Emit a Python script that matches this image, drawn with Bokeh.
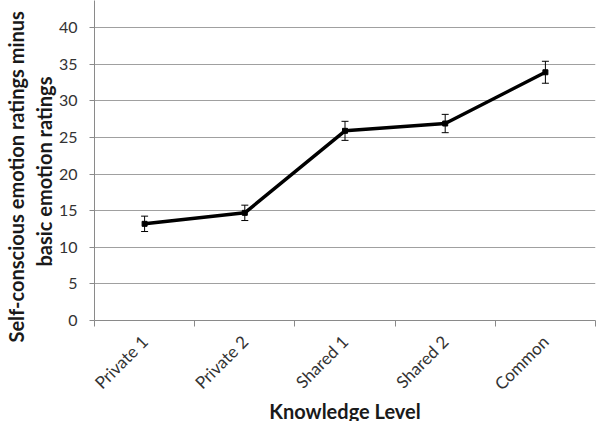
from math import pi
from bokeh.plotting import figure
from bokeh.models import ColumnDataSource, Whisker, TeeHead, FixedTicker, Title
from bokeh.embed import file_html
from bokeh.resources import INLINE

categories = ["Private 1", "Private 2", "Shared 1", "Shared 2", "Common"]
values = [13.2, 14.7, 25.9, 26.9, 33.9]
errors = [1.05, 1.05, 1.3, 1.25, 1.5]
y_ticks = [0, 5, 10, 15, 20, 25, 30, 35, 40]
x_title = "Knowledge Level"
y_title_lines = ["Self-conscious emotion ratings minus", "basic emotion ratings"]

xs = [i + 0.5 for i in range(len(categories))]
src = ColumnDataSource(dict(
    x=xs, y=values,
    upper=[v + e for v, e in zip(values, errors)],
    lower=[v - e for v, e in zip(values, errors)],
))

FONT = "Lato"
GRAY = "#8a8a8a"
TXT = "#333333"
TITLE = "#1a1a1a"

p = figure(width=599, height=421, x_range=(0, len(categories)), y_range=(0, 43.7),
           output_backend="svg", toolbar_location=None,
           min_border_left=94, min_border_right=4, min_border_top=0, min_border_bottom=101)
p.outline_line_color = None
p.background_fill_color = "white"
p.border_fill_color = "white"

p.xgrid.visible = False
p.ygrid.grid_line_color = "#a0a0a0"
p.ygrid.grid_line_width = 1

# y axis
p.yaxis.ticker = FixedTicker(ticks=y_ticks)
p.yaxis.axis_line_color = GRAY
p.yaxis.major_tick_line_color = GRAY
p.yaxis.major_tick_out = 5
p.yaxis.major_tick_in = 0
p.yaxis.minor_tick_line_color = None
p.yaxis.major_label_text_font = FONT
p.yaxis.major_label_text_font_size = "16px"
p.yaxis.major_label_text_color = TXT
p.yaxis.major_label_standoff = 12

# y title: two lines, as titles in the left panel (inner line first)
for line, off, so in ((y_title_lines[1], 54, 0), (y_title_lines[0], -22, 3)):
    p.add_layout(Title(text=line, align="left", offset=off, standoff=so,
                       text_font=FONT, text_font_style="bold", text_font_size="20px",
                       text_color=TITLE), "left")

# x axis
p.xaxis.ticker = FixedTicker(ticks=xs, minor_ticks=list(range(len(categories) + 1)))
p.xaxis.major_label_overrides = {x: c for x, c in zip(xs, categories)}
p.xaxis.axis_line_color = GRAY
p.xaxis.major_tick_line_color = None
p.xaxis.minor_tick_line_color = GRAY
p.xaxis.minor_tick_out = 6
p.xaxis.minor_tick_in = 0
p.xaxis.major_label_orientation = pi / 4
p.xaxis.major_label_text_font = FONT
p.xaxis.major_label_text_font_size = "17px"
p.xaxis.major_label_text_color = TXT
p.xaxis.major_label_standoff = 12

p.add_layout(Title(text=x_title, align="center", standoff=-16,
                   text_font=FONT, text_font_style="bold", text_font_size="20px",
                   text_color=TITLE), "below")

p.line("x", "y", source=src, line_width=3.5, line_color="black")
p.scatter("x", "y", source=src, marker="square", size=5, color="black")
p.add_layout(Whisker(base="x", upper="upper", lower="lower", source=src,
                     line_color="black", line_width=1,
                     upper_head=TeeHead(size=7, line_color="black", line_width=1),
                     lower_head=TeeHead(size=7, line_color="black", line_width=1)))

open("out.html", "w").write(file_html(p, INLINE))
